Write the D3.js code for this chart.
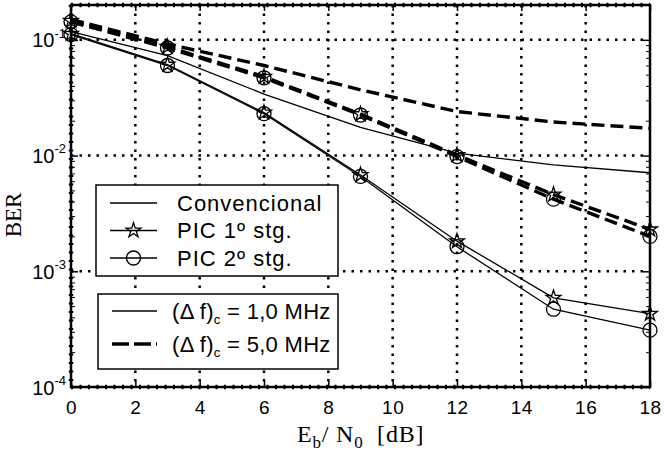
<!DOCTYPE html>
<html>
<head>
<meta charset="utf-8">
<script src="https://cdn.jsdelivr.net/npm/d3@7"></script>
<style>
  body { margin: 0; background: #fff; }
  text { fill: #000; }
</style>
</head>
<body>
<div id="chart"></div>
<script>
// Eb/N0 points (dB)
const ebno = [0, 3, 6, 9, 12, 15, 18];

// (Δf)c = 1,0 MHz
const conv1 = [0.118, 0.073, 0.034, 0.0175, 0.0105, 0.0083, 0.0071];
const pic1st1 = [0.113, 0.061, 0.0235, 0.0068, 0.00182, 0.00059, 0.00043];
const pic2st1 = [0.111, 0.060, 0.0230, 0.0066, 0.00163, 0.00047, 0.00031];

// (Δf)c = 5,0 MHz
const conv5 = [0.150, 0.092, 0.060, 0.037, 0.024, 0.0195, 0.0172];
const pic1st5 = [0.146, 0.087, 0.048, 0.0228, 0.0101, 0.0046, 0.0023];
const pic2st5 = [0.143, 0.085, 0.047, 0.0224, 0.0098, 0.0042, 0.0020];

const xTicks = [0, 2, 4, 6, 8, 10, 12, 14, 16, 18];
const yDecades = [-4, -3, -2, -1];

const legendA = ["Convencional", "PIC 1º stg.", "PIC 2º stg."];
const legendB = ["1,0 MHz", "5,0 MHz"];

const W = 664, H = 452;
const pl = 71, pr = 650, pt = 5, pb = 387;

const svg = d3.select("#chart")
    .append("svg")
    .attr("width", W)
    .attr("height", H);

const x = d3.scaleLinear().domain([0, 18]).range([pl, pr]);
const y = d3.scaleLog().domain([1e-4, 0.2]).range([pb, pt]);

const dotted = "2.5,6";

// grid
const grid = svg.append("g");
grid.selectAll(".vg")
    .data(xTicks.slice(1, -1))
    .enter().append("line")
    .attr("x1", d => x(d)).attr("x2", d => x(d))
    .attr("y1", pt).attr("y2", pb)
    .attr("stroke", "#000").attr("stroke-width", 2.5)
    .attr("stroke-dasharray", dotted);
grid.selectAll(".hg")
    .data(yDecades.slice(1))
    .enter().append("line")
    .attr("x1", pl).attr("x2", pr)
    .attr("y1", d => y(Math.pow(10, d))).attr("y2", d => y(Math.pow(10, d)))
    .attr("stroke", "#000").attr("stroke-width", 2.5)
    .attr("stroke-dasharray", dotted);

// minor log ticks
const minor = [];
yDecades.forEach(e => {
    for (let m = 2; m <= 9; m++) {
        const v = m * Math.pow(10, e);
        if (v <= 0.2) minor.push(v);
    }
});

// axes
const fontSans = "'Liberation Sans', Arial, sans-serif";

const xAxis = svg.append("g")
    .attr("transform", `translate(0, ${pb})`)
    .call(d3.axisBottom(x).tickValues(xTicks).tickSizeInner(-6).tickSizeOuter(0).tickPadding(14));
xAxis.select(".domain").remove();
xAxis.selectAll(".tick line").attr("stroke-width", 1.5);
xAxis.selectAll(".tick text")
    .style("font-family", fontSans).style("font-size", "19px")
    .style("letter-spacing", "0.5px");

const xTop = svg.append("g")
    .attr("transform", `translate(0, ${pt})`)
    .call(d3.axisTop(x).tickValues(xTicks).tickSizeInner(-6).tickSizeOuter(0).tickFormat(""));
xTop.select(".domain").remove();
xTop.selectAll(".tick line").attr("stroke-width", 1.5);

const yAxis = svg.append("g")
    .attr("transform", `translate(${pl}, 0)`)
    .call(d3.axisLeft(y).tickValues(yDecades.map(e => Math.pow(10, e))).tickSizeInner(-7).tickSizeOuter(0).tickPadding(6).tickFormat(""));
yAxis.select(".domain").remove();
yAxis.selectAll(".tick line").attr("stroke-width", 1.5);
yAxis.selectAll(".tick text")
    .style("font-family", fontSans).style("font-size", "20px")
    .attr("x", -5).attr("dy", "0.35em")
    .each(function(d) {
        const t = d3.select(this);
        t.append("tspan").text("10");
        t.append("tspan").attr("dy", "-0.75em").style("font-size", "13px")
            .text(Math.round(Math.log10(d)));
    });

const yMinorL = svg.append("g")
    .attr("transform", `translate(${pl}, 0)`)
    .call(d3.axisLeft(y).tickValues(minor).tickSizeInner(-4).tickSizeOuter(0).tickFormat(""));
yMinorL.select(".domain").remove();

const yRight = svg.append("g")
    .attr("transform", `translate(${pr}, 0)`)
    .call(d3.axisRight(y).tickValues(yDecades.map(e => Math.pow(10, e))).tickSizeInner(-7).tickSizeOuter(0).tickFormat(""));
yRight.select(".domain").remove();
yRight.selectAll(".tick line").attr("stroke-width", 1.5);
const yMinorR = svg.append("g")
    .attr("transform", `translate(${pr}, 0)`)
    .call(d3.axisRight(y).tickValues(minor).tickSizeInner(-4).tickSizeOuter(0).tickFormat(""));
yMinorR.select(".domain").remove();

// frame
svg.append("rect")
    .attr("x", pl).attr("y", pt)
    .attr("width", pr - pl).attr("height", pb - pt)
    .attr("fill", "none").attr("stroke", "#000").attr("stroke-width", 2.5);
// bumpy dotted look along the frame
[[pl, pt, pr, pt], [pl, pb, pr, pb], [pl, pt, pl, pb]].forEach(s => {
    svg.append("line")
        .attr("x1", s[0]).attr("y1", s[1]).attr("x2", s[2]).attr("y2", s[3])
        .attr("stroke", "#000").attr("stroke-width", 4.5)
        .attr("stroke-dasharray", "2,6.5");
});

// series
const series = [
    {values: conv5, dashed: true, marker: null},
    {values: pic1st5, dashed: true, marker: "star"},
    {values: pic2st5, dashed: true, marker: "circle"},
    {values: conv1, dashed: false, marker: null},
    {values: pic1st1, dashed: false, marker: "star"},
    {values: pic2st1, dashed: false, marker: "circle"}
];

const line = d3.line()
    .x((d, i) => x(ebno[i]))
    .y(d => y(d));

const star = d3.symbol().type(d3.symbolStar).size(68);

function drawMarker(g, kind, cx, cy) {
    if (kind === "circle") {
        g.append("circle")
            .attr("cx", cx).attr("cy", cy).attr("r", 7)
            .attr("fill", "none").attr("stroke", "#000").attr("stroke-width", 1.3);
    } else if (kind === "star") {
        g.append("path")
            .attr("d", star())
            .attr("transform", `translate(${cx}, ${cy})`)
            .attr("fill", "none").attr("stroke", "#000").attr("stroke-width", 1.3);
    }
}

series.forEach(s => {
    svg.append("path")
        .datum(s.values)
        .attr("d", line)
        .attr("fill", "none")
        .attr("stroke", "#000")
        .attr("stroke-width", s.dashed ? 3.4 : 1.3)
        .attr("stroke-dasharray", s.dashed ? "13,6" : null);
    if (s.marker) {
        const g = svg.append("g");
        s.values.forEach((v, i) => drawMarker(g, s.marker, x(ebno[i]), y(v)));
    }
});

// legend 1
const lg1 = svg.append("g");
lg1.append("rect")
    .attr("x", 96).attr("y", 185).attr("width", 242).attr("height", 91)
    .attr("fill", "#fff").attr("stroke", "#000").attr("stroke-width", 1.5);
legendA.forEach((name, i) => {
    const ly = 203 + i * 27.5;
    lg1.append("line")
        .attr("x1", 110).attr("x2", 157).attr("y1", ly).attr("y2", ly)
        .attr("stroke", "#000").attr("stroke-width", 1.3);
    drawMarker(lg1, [null, "star", "circle"][i], 133.5, ly);
    lg1.append("text")
        .attr("x", 177).attr("y", ly).attr("dy", "0.35em")
        .style("font-family", fontSans).style("font-size", "22px")
        .style("letter-spacing", "1px")
        .text(name);
});

// legend 2
const lg2 = svg.append("g");
lg2.append("rect")
    .attr("x", 98).attr("y", 294).attr("width", 240).attr("height", 75)
    .attr("fill", "#fff").attr("stroke", "#000").attr("stroke-width", 1.5);
legendB.forEach((name, i) => {
    const ly = 311 + i * 33;
    lg2.append("line")
        .attr("x1", 112).attr("x2", 157).attr("y1", ly).attr("y2", ly)
        .attr("stroke", "#000")
        .attr("stroke-width", i ? 3.4 : 1.3)
        .attr("stroke-dasharray", i ? "17,5" : null);
    const t = lg2.append("text")
        .attr("x", 172).attr("y", ly).attr("dy", "0.35em")
        .style("font-family", fontSans).style("font-size", "22px")
        .style("letter-spacing", "0.3px")
        .attr("xml:space", "preserve");
    t.append("tspan").text("(Δ f)");
    t.append("tspan").attr("dy", "5").style("font-size", "13px").text("c");
    t.append("tspan").attr("dy", "-5").text(" = " + name);
});

// axis titles
const fontSerif = "'Liberation Serif', 'Times New Roman', serif";
const xt = svg.append("text")
    .attr("x", 297).attr("y", 442)
    .style("font-family", fontSerif).style("font-size", "24px")
    .style("letter-spacing", "0.8px")
    .attr("xml:space", "preserve");
xt.append("tspan").text("E");
xt.append("tspan").attr("dy", 6).style("font-size", "17px").text("b");
xt.append("tspan").attr("dy", -6).text("/ N");
xt.append("tspan").attr("dy", 6).style("font-size", "17px").text("0");
xt.append("tspan").attr("dy", -6).text("  [dB]");

svg.append("text")
    .attr("transform", "translate(21, 215) rotate(-90)")
    .attr("text-anchor", "middle")
    .style("font-family", fontSerif).style("font-size", "23px")
    .text("BER");
</script>
</body>
</html>
